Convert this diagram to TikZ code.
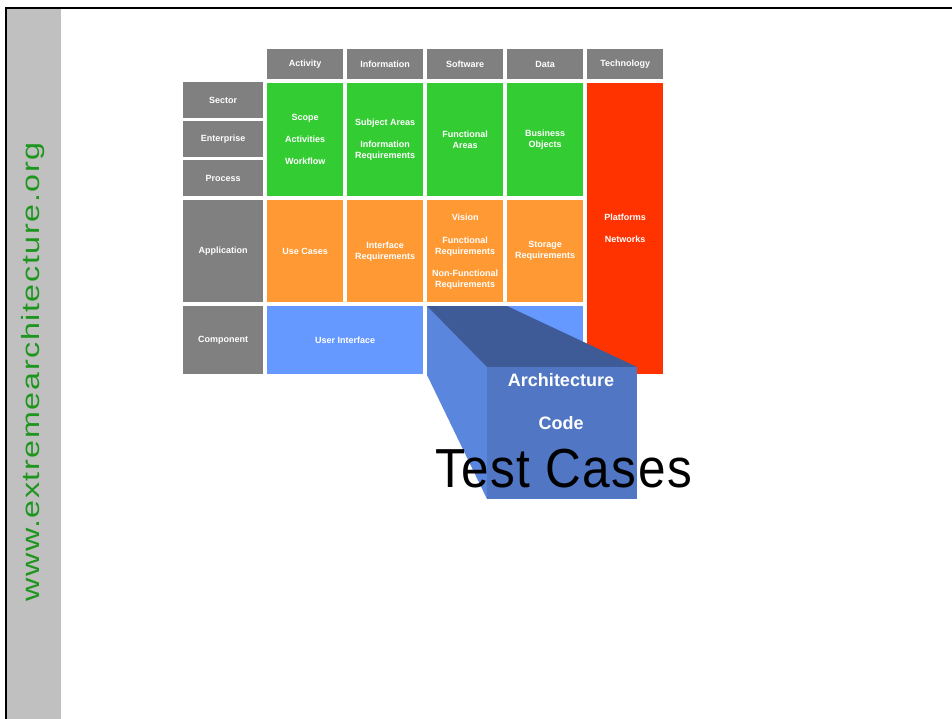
\documentclass[tikz,border=0pt]{standalone}
\usepackage{graphicx}
\usepackage{fontspec}
\setmainfont{Liberation Sans}
\newfontfamily\wwwfont[LetterSpace=5]{Liberation Sans}
\newfontfamily\testfont[LetterSpace=3]{Liberation Sans}
\usetikzlibrary{positioning}

\definecolor{cellgray}{RGB}{128,128,128}
\definecolor{cellgreen}{RGB}{51,204,51}
\definecolor{cellorange}{RGB}{255,153,51}
\definecolor{cellblue}{RGB}{102,153,255}
\definecolor{cellred}{RGB}{255,51,0}
\definecolor{stripgray}{RGB}{192,192,192}
\definecolor{urlgreen}{RGB}{30,150,30}
\definecolor{prismtop}{RGB}{62,91,152}
\definecolor{prismside}{RGB}{91,134,222}
\definecolor{prismfront}{RGB}{80,118,196}

\begin{document}
\begin{tikzpicture}[x=1pt,y=-1pt,
   cell/.style={anchor=north west,inner sep=0pt,text=white,align=center,
     font=\bfseries\fontsize{9}{11}\selectfont,minimum width=76pt},
   hdr/.style={cell,fill=cellgray,minimum height=30pt},
   rowlbl/.style={cell,fill=cellgray,minimum width=80pt},
   green/.style={cell,fill=cellgreen,minimum height=113pt},
   orange/.style={cell,fill=cellorange,minimum height=102pt},
   blue/.style={cell,fill=cellblue,minimum width=156pt,minimum height=68pt}]
 \useasboundingbox (0,0) rectangle (952,719);
 \fill[stripgray] (7,9) rectangle (61,719);
 \draw[line width=2pt] (6,719) -- (6,8) -- (952,8);
 \node[rotate=90,text=urlgreen,font=\wwwfont\fontsize{25}{25}\selectfont] (url) at (33,372) {\scalebox{1.29}[1]{www.extremearchitecture.org}};

 \node[hdr] (hA) at (267,49) {Activity};
 \node[hdr] (hI) at (347,49) {Information};
 \node[hdr] (hS) at (427,49) {Software};
 \node[hdr] (hD) at (507,49) {Data};
 \node[hdr] (hT) at (587,49) {Technology};

 \node[rowlbl,minimum height=36pt] (rSec) at (183,82) {Sector};
 \node[rowlbl,minimum height=36pt] (rEnt) at (183,121) {Enterprise};
 \node[rowlbl,minimum height=36pt] (rPro) at (183,160) {Process};
 \node[rowlbl,minimum height=102pt] (rApp) at (183,200) {Application};
 \node[rowlbl,minimum height=68pt] (rCom) at (183,306) {Component};

 \node[green] (gA) at (267,83) {Scope\\[11pt]Activities\\[11pt]Workflow};
 \node[green] (gI) at (347,83) {Subject Areas\\[11pt]Information\\Requirements};
 \node[green] (gS) at (427,83) {Functional\\Areas};
 \node[green] (gD) at (507,83) {Business\\Objects};

 \node[orange] (oA) at (267,200) {Use Cases};
 \node[orange] (oI) at (347,200) {Interface\\Requirements};
 \node[orange] (oS) at (427,200) {Vision\\[12pt]Functional\\Requirements\\[11pt]Non-Functional\\Requirements};
 \node[orange] (oD) at (507,200) {Storage\\Requirements};

 \node[blue] (bUI) at (267,306) {User Interface};
 \node[blue] (bSD) at (427,306) {};
 \node[cell,fill=cellred,minimum height=291pt] (tech) at (587,83) {};
 \node[cell,anchor=center] (techTxt) at (625,228) {Platforms\\[11pt]Networks};

 \coordinate (pA) at (427,306);
 \coordinate (pB) at (507,306);
 \coordinate (pC) at (637,367);
 \coordinate (pD) at (487,367);
 \coordinate (pE) at (487,499);
 \coordinate (pF) at (637,499);
 \coordinate (pG) at (427,375);
 \fill[prismside] (pA) -- (pD) -- (pE) -- (pG) -- cycle;
 \fill[prismtop] (pA) -- (pB) -- (pC) -- (pD) -- cycle;
 \fill[prismfront] (pD) rectangle (pF);

 \node[text=white,font=\bfseries\fontsize{18}{18}\selectfont] (arch) at (561,380) {Architecture};
 \node[text=white,font=\bfseries\fontsize{18}{18}\selectfont] (code) at (561,423) {Code};
 \node[anchor=base west,inner sep=0pt,font=\testfont\fontsize{55}{55}\selectfont] (tests) at (435,487) {\scalebox{0.9}[1]{Test Cases}};
\end{tikzpicture}
\end{document}
